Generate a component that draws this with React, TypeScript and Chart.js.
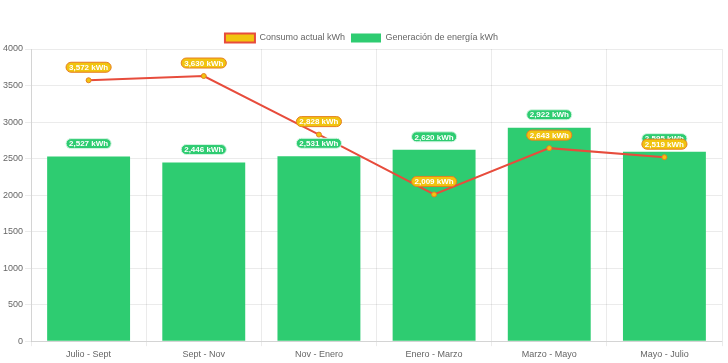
import React, { useEffect, useRef } from "react";
import { Chart, registerables } from "chart.js";

Chart.register(...registerables);

const categories = ["Julio - Sept", "Sept - Nov", "Nov - Enero", "Enero - Marzo", "Marzo - Mayo", "Mayo - Julio"];
const consumo = [3572, 3630, 2828, 2009, 2643, 2519];
const generacion = [2527, 2446, 2531, 2620, 2922, 2595];
const yTicks = [0, 500, 1000, 1500, 2000, 2500, 3000, 3500, 4000];

const FONT = "'Liberation Sans', Arial, sans-serif";
const fmt = (v: number) => v.toLocaleString("en-US") + " kWh";

const pillPlugin = {
  id: "pills",
  afterDatasetsDraw(chart: any) {
    const ctx = chart.ctx;
    const order = [1, 0];
    order.forEach((di) => {
      const meta = chart.getDatasetMeta(di);
      const ds = chart.data.datasets[di];
      const isBar = ds.type === "bar";
      const bg = isBar ? "#2ecc71" : "#f1c40f";
      const border = isBar ? "#d5f5e3" : "#e67e22";
      meta.data.forEach((el: any, i: number) => {
        const text = fmt(ds.data[i]);
        ctx.save();
        ctx.font = "bold 8px " + FONT;
        const tw = ctx.measureText(text).width;
        const w = tw + 6;
        const h = 10;
        const cx = el.x;
        const cy = el.y - 13;
        const x = cx - w / 2;
        const y = cy - h / 2;
        ctx.beginPath();
        ctx.roundRect(x, y, w, h, 5);
        ctx.fillStyle = bg;
        ctx.fill();
        ctx.lineWidth = 1;
        ctx.strokeStyle = border;
        ctx.stroke();
        ctx.fillStyle = "#ffffff";
        ctx.textAlign = "center";
        ctx.textBaseline = "middle";
        ctx.fillText(text, cx, cy + 0.5);
        ctx.restore();
      });
    });
  },
};

// keep the legend block compact so the plot area starts where the reference does
const legendHeightPlugin = {
  id: "legendHeight",
  beforeLayout(chart: any) {
    const lg = chart.legend;
    if (lg && !lg.__patched) {
      const orig = lg.fit;
      lg.fit = function () {
        orig.call(this);
        this.height = 21.5;
      };
      lg.__patched = true;
    }
  },
};

export default function App() {
  const ref = useRef<HTMLCanvasElement>(null);
  useEffect(() => {
    if (!ref.current) return;
    const chart = new Chart(ref.current, {
      data: {
        labels: categories,
        datasets: [
          {
            type: "line",
            label: "Consumo actual kWh",
            data: consumo,
            borderColor: "#e74c3c",
            backgroundColor: "#f1c40f",
            borderWidth: 2,
            pointRadius: 2.5,
            pointBackgroundColor: "#f1c40f",
            pointBorderColor: "#e67e22",
            pointBorderWidth: 1,
            tension: 0,
            fill: false,
            order: 0,
          },
          {
            type: "bar",
            label: "Generación de energía kWh",
            data: generacion,
            backgroundColor: "#2ecc71",
            borderColor: "#2ecc71",
            borderWidth: 0,
            order: 1,
          },
        ],
      } as any,
      options: {
        animation: false,
        responsive: false,
        maintainAspectRatio: false,
        layout: { padding: { top: 27.5, right: 6, left: 1, bottom: 0 } },
        plugins: {
          legend: {
            position: "top",
            labels: {
              boxWidth: 30,
              boxHeight: 9,
              padding: 6,
              color: "#666",
              font: { size: 9, family: FONT },
            },
          },
          tooltip: { enabled: false },
        },
        scales: {
          x: {
            grid: { color: "rgba(0,0,0,0.08)", tickLength: 5 },
            ticks: { color: "#666", padding: 3, font: { size: 9, family: FONT } },
          },
          y: {
            min: 0,
            max: 4000,
            afterBuildTicks: (axis: any) => {
              axis.ticks = yTicks.map((v) => ({ value: v }));
            },
            ticks: {
              color: "#666",
              padding: 2,
              font: { size: 9, family: FONT },
              callback: (v: any) => String(v),
            },
            grid: { color: "rgba(0,0,0,0.08)", tickLength: 6 },
          },
        },
      } as any,
      plugins: [legendHeightPlugin, pillPlugin],
    });
    return () => chart.destroy();
  }, []);
  return (
    <div style={{ position: "absolute", left: 0, top: 0, width: 728, height: 363, background: "#fff" }}>
      <canvas ref={ref} width={728} height={363} />
    </div>
  );
}
